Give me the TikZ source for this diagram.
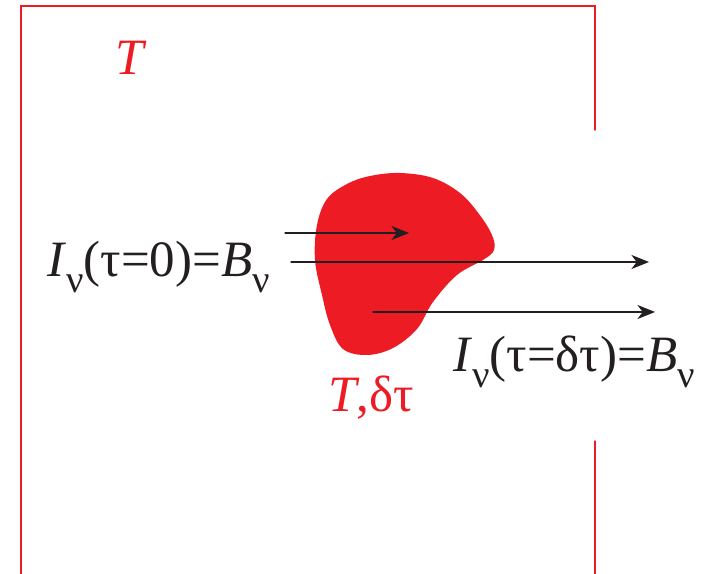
\documentclass[tikz,border=0pt]{standalone}
\usepackage{fontspec}
\setmainfont{Liberation Serif}
\usepackage{tkz-euclide}
\usetikzlibrary{arrows.meta,calc}
\definecolor{BoxClr}{rgb}{0.929,0.110,0.141}
\definecolor{InkClr}{rgb}{0.137,0.122,0.125}
\newcommand\nuSub{\raisebox{-.3em}{\fontsize{22}{22}\selectfont ν}}
\tikzset{lbl/.style={anchor=base west,inner sep=0pt,font=\fontsize{29}{33}\selectfont}}

\begin{document}
\begin{tikzpicture}
\useasboundingbox (0,0) rectangle (14.22,11.48);
\tkzSetUpLine[line width=0.85pt,color=BoxClr]

\tkzDefPoints{0.42/0/P1,0.42/11.36/P2,11.9/11.36/P3,11.9/8.88/P4,11.9/2.66/Q1,11.9/0/Q2}
\tkzDefPoints{5.70/6.82/a1,8.18/6.82/b1,5.82/6.24/a2,12.98/6.24/b2,7.46/5.24/a3,13.10/5.24/b3}

% the cloud
\fill[BoxClr] plot[smooth cycle,tension=0.6] coordinates {(8.00,8.02) (8.66,7.92) (9.20,7.62) (9.58,7.20) (9.84,6.78) (9.88,6.48) (9.66,6.28) (9.14,5.98) (8.66,5.44) (8.34,4.90) (7.86,4.52) (7.34,4.38) (6.86,4.50) (6.60,4.98) (6.44,5.58) (6.30,6.28) (6.34,6.98) (6.54,7.50) (6.94,7.80) (7.40,7.96)};

\tkzDrawPolySeg(P1,P2,P3,P4)
\tkzDrawSegment(Q1,Q2)

\tkzDrawSegments[line width=0.75pt,color=InkClr,-{Stealth[length=10pt,width=8pt,inset=3pt]}](a1,b1 a2,b2 a3,b3)

\node[lbl,text=BoxClr] (Tout) at (2.30,9.98) {\textit{T}};
\node[lbl,text=BoxClr] (Tin) at (6.56,3.24) {\textit{T},δτ};
\node[lbl,text=InkClr] (Izero) at (0.94,5.94) {\textit{I}\nuSub(τ=0)=\textit{B}\nuSub};
\node[lbl,text=InkClr] (Idelta) at (9.06,4.04) {\textit{I}\nuSub(τ=δτ)=\textit{B}\nuSub};
\end{tikzpicture}
\end{document}
